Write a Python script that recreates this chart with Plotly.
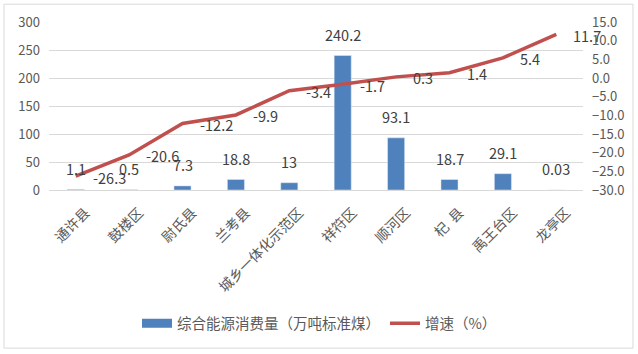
import plotly.graph_objects as go

categories = ["通许县", "鼓楼区", "尉氏县", "兰考县", "城乡一体化示范区", "祥符区", "顺河区", "杞  县", "禹王台区", "龙亭区"]
consumption = [1.1, 0.5, 7.3, 18.8, 13, 240.2, 93.1, 18.7, 29.1, 0.03]
consumption_labels = ["1.1", "0.5", "7.3", "18.8", "13", "240.2", "93.1", "18.7", "29.1", "0.03"]
growth = [-26.3, -20.6, -12.2, -9.9, -3.4, -1.7, 0.3, 1.4, 5.4, 11.7]
growth_labels = ["-26.3", "-20.6", "-12.2", "-9.9", "-3.4", "-1.7", "0.3", "1.4", "5.4", "11.7"]

FONT = "Noto Sans CJK SC, Liberation Sans, sans-serif"
TXT = "#404040"
GRAY = "#595959"
BLUE = "#4F81BD"
RED = "#C0504D"

xs = list(range(len(categories)))

fig = go.Figure()
# legend-only swatch resembling the Excel rectangle
fig.add_trace(go.Scatter(x=[None], y=[None], mode="lines", name="综合能源消费量（万吨标准煤）",
                         line=dict(color=BLUE, width=9), showlegend=True))
fig.add_trace(go.Bar(
    x=xs, y=consumption, name="综合能源消费量（万吨标准煤）",
    marker_color=BLUE, showlegend=False, yaxis="y",
))
fig.add_trace(go.Scatter(
    x=xs, y=growth, name="增速（%）", mode="lines",
    line=dict(color=RED, width=3.5), yaxis="y2",
))

annotations = []
for xi, v, t in zip(xs, consumption, consumption_labels):
    annotations.append(dict(x=xi, y=v, xref="x", yref="y", text=t, showarrow=False,
                            yanchor="middle", yshift=21,
                            font=dict(size=14.5, color=TXT, family=FONT)))
for xi, v, t in zip(xs, growth, growth_labels):
    annotations.append(dict(x=xi, y=v, xref="x", yref="y2", text=t, showarrow=False,
                            xanchor="left", yanchor="middle", xshift=15, yshift=-1,
                            font=dict(size=14.5, color=TXT, family=FONT)))

fig.update_layout(
    width=638, height=354,
    margin=dict(l=49, r=55, t=20, b=164),
    paper_bgcolor="white", plot_bgcolor="white",
    font=dict(family=FONT, color=GRAY, size=13),
    bargap=0.68,
    showlegend=True,
    legend=dict(orientation="h", x=(137 - 49) / 534, xanchor="left", y=-0.794, yanchor="middle",
                font=dict(size=14.5, color=GRAY), itemwidth=30, bgcolor="rgba(0,0,0,0)"),
    xaxis=dict(range=[-0.5, len(categories) - 0.5], tickmode="array", tickvals=xs,
               ticktext=categories, tickangle=-45, tickfont=dict(size=14, color=GRAY),
               ticklabelshift=10, ticklabelstandoff=8,
               showline=True, linecolor="#D9D9D9", ticks="", showgrid=False, zeroline=False),
    yaxis=dict(range=[0, 300], dtick=50, showgrid=True, gridcolor="#D9D9D9",
               zeroline=False, tickfont=dict(size=13, color=GRAY), ticks="", ticklen=0,
               ticklabelstandoff=8),
    yaxis2=dict(range=[-30, 15], dtick=5, tickformat=".1f", overlaying="y", side="right",
                showgrid=False, zeroline=False, tickfont=dict(size=13, color=GRAY), ticks="",
                ticklen=0, ticklabelstandoff=8),
    annotations=annotations,
    shapes=[dict(type="rect", xref="paper", yref="paper",
                 x0=(4 - 49) / 534, x1=(633 - 49) / 534, y0=(190 - 350) / 170, y1=(190 - 2) / 170,
                 line=dict(color="#D9D9D9", width=1), layer="below")],
)

fig.write_html("out.html")
